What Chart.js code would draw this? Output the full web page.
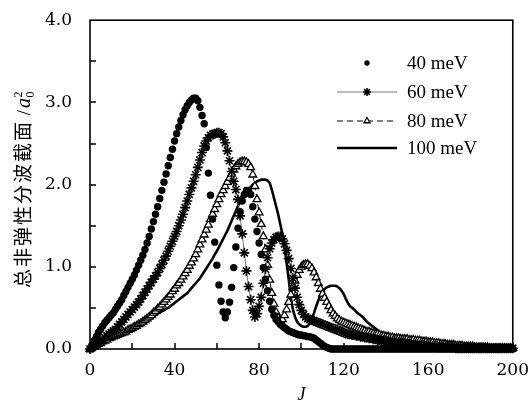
<!DOCTYPE html>
<html lang="zh">
<head>
<meta charset="UTF-8">
<title>总非弹性分波截面</title>
<script src="https://cdn.jsdelivr.net/npm/chart.js"></script>
<style>
  html, body { margin: 0; padding: 0; background: #fff; }
  #wrap { width: 532px; height: 401px; }
</style>
</head>
<body>
<div id="wrap"><canvas id="c" width="532" height="401"></canvas></div>
<script>
// J = 0 .. 200, one point per partial wave
const J = Array.from({ length: 201 }, (_, i) => i);

const labels = ['40 meV', '60 meV', '80 meV', '100 meV'];

const d40 = [
  0.00, 0.05, 0.10, 0.15, 0.20, 0.24, 0.28, 0.32, 0.35, 0.38,
  0.41, 0.44, 0.48, 0.52, 0.56, 0.60, 0.65, 0.70, 0.75, 0.80,
  0.85, 0.90, 0.96, 1.02, 1.08, 1.14, 1.21, 1.29, 1.37, 1.46,
  1.55, 1.64, 1.73, 1.83, 1.93, 2.03, 2.13, 2.23, 2.33, 2.43,
  2.53, 2.62, 2.70, 2.78, 2.85, 2.91, 2.96, 3.00, 3.03, 3.05,
  3.05, 3.02, 2.94, 2.84, 2.74, 2.45, 2.14, 1.87, 1.58, 1.30,
  1.02, 0.78, 0.58, 0.45, 0.38, 0.45, 0.57, 0.75, 0.99, 1.24,
  1.47, 1.67, 1.80, 1.88, 1.93, 1.93, 1.88, 1.73, 1.58, 1.43,
  1.29, 1.15, 0.99, 0.85, 0.71, 0.58, 0.48, 0.41, 0.36, 0.33,
  0.30, 0.28, 0.26, 0.24, 0.22, 0.21, 0.20, 0.19, 0.18, 0.17,
  0.17, 0.16, 0.16, 0.15, 0.15, 0.14, 0.13, 0.11, 0.09, 0.07,
  0.05, 0.03, 0.02, 0.01, 0, 0, 0, 0, 0, 0,
  0, 0, 0, 0, 0, 0, 0, 0, 0, 0, 0, 0, 0, 0, 0, 0, 0, 0, 0, 0,
  0, 0, 0, 0, 0, 0, 0, 0, 0, 0, 0, 0, 0, 0, 0, 0, 0, 0, 0, 0,
  0, 0, 0, 0, 0, 0, 0, 0, 0, 0, 0, 0, 0, 0, 0, 0, 0, 0, 0, 0,
  0, 0, 0, 0, 0, 0, 0, 0, 0, 0, 0, 0, 0, 0, 0, 0, 0, 0, 0, 0,
  0
];

const d60 = [
  0.00, 0.02, 0.04, 0.06, 0.08, 0.10, 0.12, 0.14, 0.16, 0.18,
  0.20, 0.22, 0.24, 0.27, 0.30, 0.33, 0.36, 0.39, 0.42, 0.45,
  0.48, 0.51, 0.54, 0.57, 0.61, 0.65, 0.69, 0.73, 0.77, 0.81,
  0.85, 0.89, 0.93, 0.98, 1.03, 1.08, 1.13, 1.19, 1.25, 1.31,
  1.37, 1.43, 1.50, 1.57, 1.64, 1.72, 1.80, 1.88, 1.96, 2.04,
  2.12, 2.21, 2.30, 2.39, 2.47, 2.53, 2.57, 2.60, 2.61, 2.62,
  2.63, 2.63, 2.62, 2.58, 2.51, 2.41, 2.29, 2.16, 2.04, 1.94,
  1.82, 1.62, 1.40, 1.17, 0.95, 0.76, 0.60, 0.47, 0.39, 0.43,
  0.52, 0.63, 0.80, 0.97, 1.11, 1.22, 1.29, 1.33, 1.36, 1.37,
  1.37, 1.34, 1.28, 1.20, 1.10, 0.98, 0.86, 0.74, 0.63, 0.54,
  0.47, 0.42, 0.39, 0.37, 0.36, 0.35, 0.34, 0.33, 0.32, 0.31,
  0.30, 0.29, 0.28, 0.27, 0.26, 0.25, 0.24, 0.23, 0.22, 0.21,
  0.20, 0.19, 0.18, 0.18, 0.17, 0.17, 0.16, 0.16, 0.15, 0.15,
  0.14, 0.14, 0.13, 0.13, 0.12, 0.12, 0.11, 0.11, 0.10, 0.10,
  0.10, 0.09, 0.09, 0.09, 0.08, 0.08, 0.08, 0.07, 0.07, 0.07,
  0.06, 0.06, 0.06, 0.05, 0.05, 0.05, 0.04, 0.04, 0.04, 0.04,
  0.03, 0.03, 0.03, 0.03, 0.03, 0.02, 0.02, 0.02, 0.02, 0.02,
  0.02, 0.02, 0.02, 0.01, 0.01, 0.01, 0.01, 0.01, 0.01, 0.01,
  0.01, 0.01, 0.01, 0.01, 0.01, 0.01, 0.01, 0.01, 0.01, 0.01,
  0.01, 0.01, 0.01, 0.01, 0.01, 0.01, 0.01, 0.01, 0.01, 0.01,
  0.01
];

const d80 = [
  0.00, 0.02, 0.03, 0.05, 0.06, 0.07, 0.09, 0.10, 0.11, 0.13,
  0.14, 0.15, 0.16, 0.17, 0.18, 0.19, 0.20, 0.21, 0.23, 0.24,
  0.25, 0.27, 0.28, 0.30, 0.31, 0.33, 0.35, 0.37, 0.39, 0.41,
  0.44, 0.46, 0.49, 0.51, 0.54, 0.57, 0.60, 0.63, 0.66, 0.70,
  0.73, 0.77, 0.80, 0.84, 0.88, 0.92, 0.96, 1.01, 1.05, 1.10,
  1.15, 1.21, 1.27, 1.33, 1.39, 1.45, 1.51, 1.58, 1.64, 1.70,
  1.76, 1.82, 1.88, 1.93, 1.98, 2.03, 2.08, 2.13, 2.18, 2.22,
  2.25, 2.27, 2.28, 2.28, 2.27, 2.25, 2.21, 2.12, 1.98, 1.82,
  1.66, 1.52, 1.37, 1.21, 1.02, 0.84, 0.68, 0.55, 0.45, 0.38,
  0.35, 0.36, 0.41, 0.48, 0.57, 0.66, 0.75, 0.83, 0.90, 0.96,
  1.00, 1.02, 1.03, 1.03, 1.01, 0.98, 0.93, 0.87, 0.80, 0.73,
  0.67, 0.62, 0.57, 0.52, 0.47, 0.43, 0.40, 0.37, 0.35, 0.33,
  0.32, 0.31, 0.30, 0.29, 0.28, 0.27, 0.26, 0.25, 0.24, 0.23,
  0.22, 0.21, 0.21, 0.20, 0.19, 0.18, 0.18, 0.17, 0.16, 0.16,
  0.15, 0.15, 0.14, 0.14, 0.13, 0.13, 0.13, 0.12, 0.12, 0.12,
  0.12, 0.11, 0.11, 0.11, 0.10, 0.10, 0.10, 0.09, 0.09, 0.09,
  0.08, 0.08, 0.08, 0.07, 0.07, 0.07, 0.06, 0.06, 0.06, 0.05,
  0.05, 0.05, 0.05, 0.04, 0.04, 0.04, 0.04, 0.03, 0.03, 0.03,
  0.03, 0.03, 0.02, 0.02, 0.02, 0.02, 0.02, 0.02, 0.02, 0.01,
  0.01, 0.01, 0.01, 0.01, 0.01, 0.01, 0.01, 0.01, 0.01, 0.01,
  0.01
];

const d100 = [
  0.00, 0.02, 0.04, 0.06, 0.08, 0.09, 0.11, 0.12, 0.13, 0.14,
  0.15, 0.16, 0.17, 0.18, 0.19, 0.20, 0.21, 0.22, 0.23, 0.24,
  0.25, 0.26, 0.27, 0.28, 0.29, 0.30, 0.31, 0.33, 0.35, 0.37,
  0.39, 0.41, 0.43, 0.44, 0.46, 0.47, 0.49, 0.50, 0.52, 0.54,
  0.56, 0.58, 0.60, 0.62, 0.64, 0.66, 0.68, 0.71, 0.74, 0.77,
  0.80, 0.83, 0.86, 0.90, 0.94, 0.98, 1.02, 1.06, 1.10, 1.15,
  1.19, 1.24, 1.29, 1.34, 1.39, 1.44, 1.50, 1.56, 1.62, 1.68,
  1.74, 1.79, 1.84, 1.88, 1.91, 1.94, 1.97, 2.00, 2.02, 2.04,
  2.05, 2.06, 2.06, 2.06, 2.05, 2.02, 1.94, 1.84, 1.74, 1.64,
  1.52, 1.40, 1.25, 1.05, 0.85, 0.62, 0.48, 0.39, 0.33, 0.30,
  0.28, 0.27, 0.27, 0.28, 0.31, 0.37, 0.44, 0.52, 0.59, 0.65,
  0.70, 0.73, 0.75, 0.76, 0.77, 0.77, 0.77, 0.76, 0.74, 0.71,
  0.67, 0.61, 0.56, 0.52, 0.50, 0.48, 0.45, 0.43, 0.41, 0.39,
  0.36, 0.33, 0.31, 0.29, 0.27, 0.25, 0.23, 0.21, 0.19, 0.18,
  0.17, 0.16, 0.15, 0.14, 0.13, 0.11, 0.09, 0.07, 0.05, 0.04,
  0.03, 0.02, 0.01, 0, 0, 0, 0, 0, 0, 0,
  0, 0, 0, 0, 0, 0, 0, 0, 0, 0, 0, 0, 0, 0, 0, 0, 0, 0, 0, 0,
  0, 0, 0, 0, 0, 0, 0, 0, 0, 0, 0, 0, 0, 0, 0, 0, 0, 0, 0, 0,
  0
];

const xTicks = [0, 40, 80, 120, 160, 200];
const xMinor = [20, 40, 60, 80, 100, 120, 140, 160, 180];
const yTicks = [0, 1, 2, 3, 4];
const yMinor = [0.5, 1, 1.5, 2, 2.5, 3, 3.5];

const tickFont = { family: '"DejaVu Serif", serif', size: 17 };

// axis box, inward ticks, legend and axis titles
const deco = {
  id: 'deco',
  afterDraw(chart) {
    const { ctx, chartArea: a, scales: { x, y } } = chart;
    ctx.save();
    ctx.setLineDash([]);
    ctx.strokeStyle = '#000';
    ctx.fillStyle = '#000';
    ctx.lineWidth = 1.6;
    ctx.strokeRect(a.left, a.top, a.right - a.left, a.bottom - a.top);

    // inward tick marks
    xMinor.forEach(v => {
      const tx = Math.round(x.getPixelForValue(v));
      ctx.fillRect(tx - 0.75, a.bottom - 6, 1.5, 6);
    });
    yMinor.forEach(v => {
      const ty = Math.round(y.getPixelForValue(v));
      ctx.fillRect(a.left, ty - 0.75, 6, 1.5);
    });

    // legend
    const rows = [63, 92, 121, 148];
    chart.data.datasets.forEach((ds, i) => {
      const ly = rows[i];
      if (ds.showLine !== false) {
        ctx.save();
        ctx.setLineDash(ds.borderDash || []);
        ctx.lineWidth = ds.borderWidth;
        ctx.strokeStyle = ds.borderColor;
        ctx.beginPath();
        ctx.moveTo(337, ly);
        ctx.lineTo(397, ly);
        ctx.stroke();
        ctx.restore();
      }
      if (ds.pointRadius > 0) {
        ctx.save();
        ctx.fillStyle = ds.pointBackgroundColor;
        ctx.strokeStyle = ds.pointBorderColor;
        ctx.lineWidth = ds.pointBorderWidth;
        Chart.helpers.drawPoint(ctx, {
          pointStyle: ds.pointStyle, radius: ds.pointRadius - 1,
          borderWidth: ds.pointBorderWidth, rotation: 0
        }, 367, ly);
        ctx.restore();
      }
      ctx.fillStyle = '#000';
      ctx.font = '19px "Liberation Serif", serif';
      ctx.textBaseline = 'middle';
      ctx.textAlign = 'left';
      ctx.fillText(ds.label, 407, ly + 1);
    });

    // x title
    ctx.font = 'italic 18px "Liberation Serif", serif';
    ctx.textAlign = 'center';
    ctx.textBaseline = 'alphabetic';
    ctx.fillText('J', (a.left + a.right) / 2, 400);

    // y title, rotated
    ctx.translate(23, 190);
    ctx.rotate(-Math.PI / 2);
    const cn = '总非弹性分波截面';
    const fCn = '19px "Noto Sans CJK SC", sans-serif';
    const fSl = '19px "Liberation Serif", serif';
    const fA = 'italic 20px "Liberation Serif", serif';
    const fS = '12px "Liberation Serif", serif';
    ctx.letterSpacing = '2px';
    ctx.font = fCn; const w1 = ctx.measureText(cn).width;
    ctx.letterSpacing = '0px';
    ctx.font = fSl; const w2 = ctx.measureText(' /').width + 2;
    ctx.font = fA; const w3 = ctx.measureText('a').width;
    const w4 = 6;
    let cx = -(w1 + w2 + w3 + w4) / 2;
    ctx.textAlign = 'left';
    ctx.letterSpacing = '2px';
    ctx.font = fCn; ctx.fillText(cn, cx, 7); cx += w1;
    ctx.letterSpacing = '0px';
    ctx.font = fSl; ctx.fillText(' /', cx, 7); cx += w2;
    ctx.font = fA; ctx.fillText('a', cx, 7); cx += w3 + 0.5;
    ctx.font = fS;
    ctx.fillText('2', cx, -1);
    ctx.fillText('0', cx, 11);
    ctx.restore();
  }
};

new Chart(document.getElementById('c'), {
  type: 'line',
  data: {
    labels: J,
    datasets: [
      {
        label: labels[0], data: d40, showLine: false,
        pointStyle: 'circle', pointRadius: 3.7,
        pointBackgroundColor: '#000', pointBorderColor: '#000', pointBorderWidth: 0,
        borderColor: '#000', borderWidth: 0, clip: 10
      },
      {
        label: labels[1], data: d60,
        borderColor: '#777', borderWidth: 1, tension: 0,
        pointStyle: 'star', pointRadius: 5,
        pointBackgroundColor: '#000', pointBorderColor: '#000', pointBorderWidth: 1.6,
        clip: 10
      },
      {
        label: labels[2], data: d80,
        borderColor: '#000', borderWidth: 1, borderDash: [6, 4], tension: 0,
        pointStyle: 'triangle', pointRadius: 4.5,
        pointBackgroundColor: '#fff', pointBorderColor: '#000', pointBorderWidth: 1.3,
        clip: 10
      },
      {
        label: labels[3], data: d100,
        borderColor: '#000', borderWidth: 2.6, tension: 0,
        borderJoinStyle: 'round', pointRadius: 0,
        pointBackgroundColor: '#000', pointBorderColor: '#000', pointBorderWidth: 0,
        clip: 10
      }
    ]
  },
  options: {
    responsive: false,
    devicePixelRatio: 1,
    animation: false,
    layout: { padding: { left: 0, right: 14, top: 17, bottom: 0 } },
    plugins: { legend: { display: false }, tooltip: { enabled: false } },
    scales: {
      x: {
        type: 'linear', min: 0, max: 200,
        afterFit: s => { s.height = 52; },
        grid: { display: false }, border: { display: false },
        ticks: {
          stepSize: 20, maxRotation: 0, padding: 3, color: '#000', font: tickFont,
          callback: v => xTicks.includes(v) ? String(v) : ''
        }
      },
      y: {
        min: 0, max: 4,
        afterFit: s => { s.width = 90; },
        grid: { display: false }, border: { display: false },
        ticks: {
          stepSize: 0.5, padding: 10, color: '#000', font: tickFont,
          callback: v => yTicks.includes(v) ? v.toFixed(1) : ''
        }
      }
    }
  },
  plugins: [deco]
});
</script>
</body>
</html>
